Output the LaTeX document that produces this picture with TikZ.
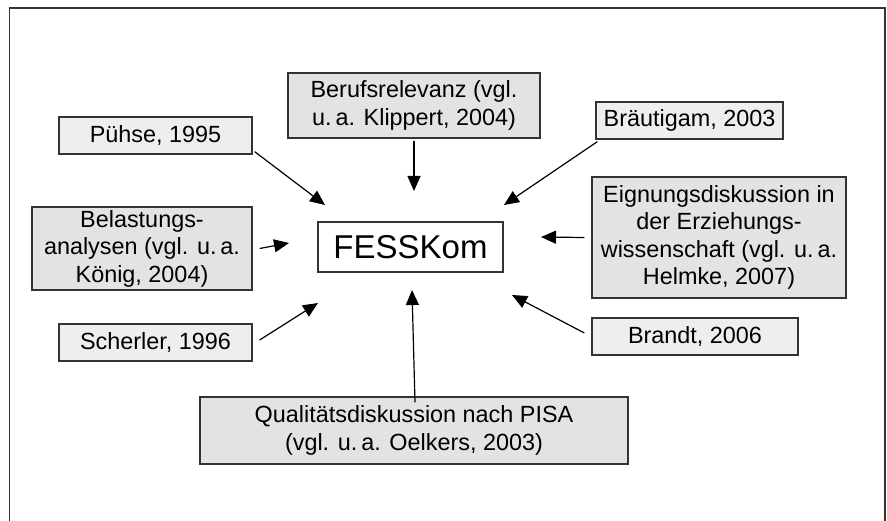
\documentclass[tikz,border=0pt]{standalone}
\usepackage{fontspec}
\setmainfont{Liberation Sans}
\usetikzlibrary{positioning, arrows.meta}

\definecolor{boxfill}{HTML}{EEEEEE}
\definecolor{boxfilldark}{HTML}{E3E3E3}
\definecolor{framegray}{HTML}{333333}

\begin{document}
\begin{tikzpicture}[
        x=1pt, y=-1pt,
        source/.style={rectangle, draw=framegray, line width=1.3pt, fill=boxfill, inner sep=0pt, align=center,
            font=\fontsize{23.4}{27.5}\selectfont},
        sourcebig/.style={source, fill=boxfilldark},
        core/.style={rectangle, draw=framegray, line width=1.3pt, fill=white, inner sep=0pt,
            minimum width=185pt, minimum height=50pt, font=\fontsize{33}{38}\selectfont},
        arrow/.style={line width=1.2pt, -{Triangle[length=15pt, width=13pt]}}
    ]
    \useasboundingbox (0,0) rectangle (887,521);
    % frame, open at the bottom
    \draw[framegray, line width=1.2pt] (9.5,521) -- (9.5,8) -- (885,8) -- (885,521);

    \node[core] (fess) at (410.5,247) {FESSKom};

    \node[source, minimum width=193pt, minimum height=37pt] (puehse) at (155.5,135.5) {Pühse, 1995};
    \node[sourcebig, minimum width=252pt, minimum height=65pt] (beruf) at (414,105.5) {Berufsrelevanz (vgl.\\u.\,a. Klippert, 2004)};
    \node[source, minimum width=187pt, minimum height=37pt] (braeut) at (689.5,120.5) {Bräutigam, 2003};
    \node[sourcebig, minimum width=220pt, minimum height=83pt] (belast) at (142,248.5) {Belastungs-\\analysen (vgl. u.\,a.\\König, 2004)};
    \node[sourcebig, minimum width=254pt, minimum height=121pt] (eign) at (719,237.5) {Eignungsdiskussion in\\der Erziehungs-\\wissenschaft (vgl. u.\,a.\\Helmke, 2007)};
    \node[source, minimum width=193pt, minimum height=37pt] (scherl) at (155.5,342.5) {Scherler, 1996};
    \node[source, minimum width=206pt, minimum height=37pt] (brandt) at (695,336.5) {Brandt, 2006};
    \node[sourcebig, minimum width=428pt, minimum height=67pt] (qual) at (414,430.5) {Qualitätsdiskussion nach PISA\\(vgl. u.\,a. Oelkers, 2003)};

    % arrow tips round the centre
    \coordinate (tipNW) at (325,205);
    \coordinate (tipN) at (414,191);
    \coordinate (tipNE) at (504,205);
    \coordinate (tipW) at (289,243);
    \coordinate (tipE) at (541,237);
    \coordinate (tipSW) at (318,303);
    \coordinate (tipS) at (412,290);
    \coordinate (tipSE) at (512,295);

    \draw[arrow] ([shift={(2,-3)}]puehse.south east) -- (tipNW);
    \draw[arrow] ([yshift=-2pt]beruf.south) -- (tipN);
    \draw[arrow] ([shift={(2,2)}]braeut.south west) -- (tipNE);
    \draw[arrow] ([xshift=7pt]belast.east) -- (tipW);
    \draw[arrow] ([xshift=-7pt]eign.west) -- (tipE);
    \draw[arrow] ([shift={(7,-2.5)}]scherl.east) -- (tipSW);
    \draw[arrow] ([shift={(1,6)}]qual.north) -- (tipS);
    \draw[arrow] ([shift={(-7,-3.5)}]brandt.west) -- (tipSE);
\end{tikzpicture}
\end{document}
